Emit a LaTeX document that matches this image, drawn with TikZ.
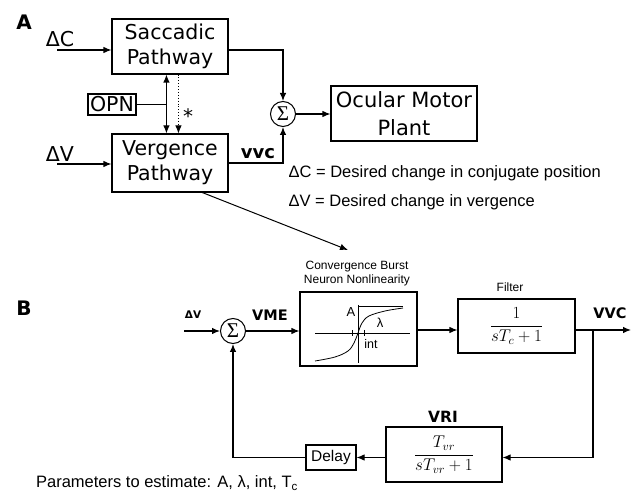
\documentclass[tikz,border=0pt]{standalone}
\usepackage{fix-cm}
\usepackage{fontspec}
\setmainfont{DejaVu Sans}
\newfontfamily\lib{Liberation Sans}
\newfontfamily\libserif{Liberation Serif}
\usetikzlibrary{arrows.meta,calc}
\begin{document}
\begin{tikzpicture}[x=1pt,y=-1pt, line width=1.1pt,
  blk/.style={draw, line width=1.1pt, inner sep=0pt, align=center},
  arr/.style={-{Latex[length=8pt,width=6.5pt]}},
  darr/.style={{Latex[length=8pt,width=6.5pt]}-{Latex[length=8pt,width=6.5pt]}},
  sumnode/.style={draw, circle, minimum size=25pt, inner sep=0pt, line width=1pt, font=\libserif\fontsize{21}{21}\selectfont},
  bigtxt/.style={font=\fontsize{20.5}{25}\selectfont},
  legtxt/.style={font=\lib\fontsize{16.5}{18}\selectfont, inner sep=0pt},
  smalltxt/.style={font=\lib\fontsize{12}{14}\selectfont, inner sep=0pt, align=center},
  boldlab/.style={font=\bfseries\fontsize{14.5}{16}\selectfont, inner sep=0pt},
  panel/.style={font=\bfseries\fontsize{20}{22}\selectfont, inner sep=0pt},
  plotline/.style={line width=0.8pt},
  fractxt/.style={font=\fontsize{17}{20}\selectfont}
]
\useasboundingbox (0,0) rectangle (633,494);

% ---------------- Panel A ----------------
\node[panel] (labA) at (24,22) {A};
\node[blk, bigtxt, minimum width=116pt, minimum height=55pt] (sac) at (170,46.5) {Saccadic\\Pathway};
\node[blk, bigtxt, minimum width=116pt, minimum height=58pt] (verg) at (170,163) {Vergence\\Pathway};
\node[blk, bigtxt, minimum width=48pt, minimum height=21pt] (opn) at (112,104.5) {OPN};
\node[blk, font=\fontsize{21}{28}\selectfont, minimum width=146pt, minimum height=55pt] (ocu) at (404,113.5) {Ocular Motor\\Plant};
\node[sumnode] (sumA) at (283,114) {Σ};

\node[bigtxt, inner sep=0pt, anchor=base] (dC) at (60,47) {ΔC};
\node[bigtxt, inner sep=0pt, anchor=base] (dV) at (60,162) {ΔV};
\coordinate (dCin) at (57,50);
\coordinate (dVin) at (57,164);
\draw[arr] (dCin) -- (dCin -| sac.west);
\draw[arr] (dVin) -- (dVin -| verg.west);

\coordinate (dtop) at ($(sac.south west)+(55,0)$);
\coordinate (dbot) at ($(verg.north west)+(55,0)$);
\draw[darr] (dtop) -- (dbot);
\draw (opn.east) -- (opn.east -| dtop);
\coordinate (ptop) at ($(sac.south west)+(67,0)$);
\coordinate (pbot) at ($(verg.north west)+(67,0)$);
\draw[arr, dotted, line width=0.9pt] (ptop) -- (pbot);
\node[font=\fontsize{20}{22}\selectfont, inner sep=0pt, anchor=base] (star) at (188,123.5) {*};

\draw[arr] ($(sac.east)+(0,3.5)$) -| (sumA.north);
\draw[arr] (verg.east) -| (sumA.south);
\node[font=\bfseries\fontsize{18}{20}\selectfont, inner sep=0pt] (vvcA) at (258,154) {vvc};
\draw[arr] (sumA.east) -- (sumA.east -| ocu.west);

\node[legtxt, anchor=west] (leg1) at (288,173) {ΔC = Desired change in conjugate position};
\node[legtxt, anchor=west] (leg2) at (288,202) {ΔV = Desired change in vergence};

% ---------------- Panel B ----------------
\node[panel] (labB) at (24,308) {B};
\node[sumnode] (sumB) at (233,331) {Σ};
\node[blk, minimum width=117pt, minimum height=74pt] (nonlin) at (358.5,329) {};
\node[smalltxt] (nltitle) at (357,274) {Convergence Burst\\Neuron Nonlinearity};
\node[blk, fractxt, minimum width=117pt, minimum height=54pt] (filt) at (516.5,326) {$\displaystyle\frac{1}{sT_c+1}$};
\node[smalltxt] (filtlab) at (510,287) {Filter};
\node[blk, fractxt, minimum width=116pt, minimum height=55pt] (vri) at (444,454.5) {$\displaystyle\frac{T_{vr}}{sT_{vr}+1}$};
\node[boldlab, font=\bfseries\fontsize{15.5}{17}\selectfont] (vrilab) at (443,417) {VRI};
\node[blk, font=\lib\fontsize{15.5}{17}\selectfont, minimum width=50pt, minimum height=25pt] (delay) at (331,457.5) {Delay};

\node[boldlab, font=\bfseries\fontsize{10.5}{12}\selectfont] (dVB) at (193,315) {ΔV};
\node[boldlab] (vme) at (270,315) {VME};
\node[boldlab] (vvcB) at (610,313) {VVC};

\coordinate (dVBin) at (184,331);
\draw[arr] (dVBin) -- (sumB.west);
\draw[arr] (sumB.east) -- (sumB.east -| nonlin.west);
\draw[arr] ($(nonlin.east)+(0,1)$) -- ($(nonlin.east -| filt.west)+(0,1)$);
\coordinate (outB) at (631,330);
\coordinate (branch) at (593,330);
\draw[arr] (filt.east |- outB) -- (outB);
\draw[arr] (branch) |- (vri.east |- delay.east);
\draw[arr] (vri.west |- delay.east) -- (delay.east);
\draw[arr] (delay.west) -| (sumB.south);

% nonlinearity plot
\draw[plotline] (315,333) -- (410,333);
\draw[plotline] (358,305) -- (358,363);
\draw[plotline] (358,306) -- (403,306);
\draw[plotline] (352,330) -- (352,336);
\draw[plotline] (364,330) -- (364,336);
\draw[plotline] plot[smooth, tension=0.6] coordinates {(315,361) (335,357) (348,351) (354,343) (358,333) (362,323) (369,316) (385,311) (403,308)};
\node[font=\lib\fontsize{13}{14}\selectfont, inner sep=0pt] (Alab) at (351,312) {A};
\node[font=\lib\fontsize{13}{14}\selectfont, inner sep=0pt] (lamlab) at (380,323) {λ};
\node[font=\lib\fontsize{12.5}{14}\selectfont, inner sep=0pt] (intlab) at (371,344) {int};

\draw[arr, line width=1pt] ($(verg.south west)!0.776!(verg.south east)$) -- (348,250);

\node[legtxt] (params) at (167,483) {Parameters to estimate: A, λ, int, T\textsubscript{c}};
\end{tikzpicture}
\end{document}
